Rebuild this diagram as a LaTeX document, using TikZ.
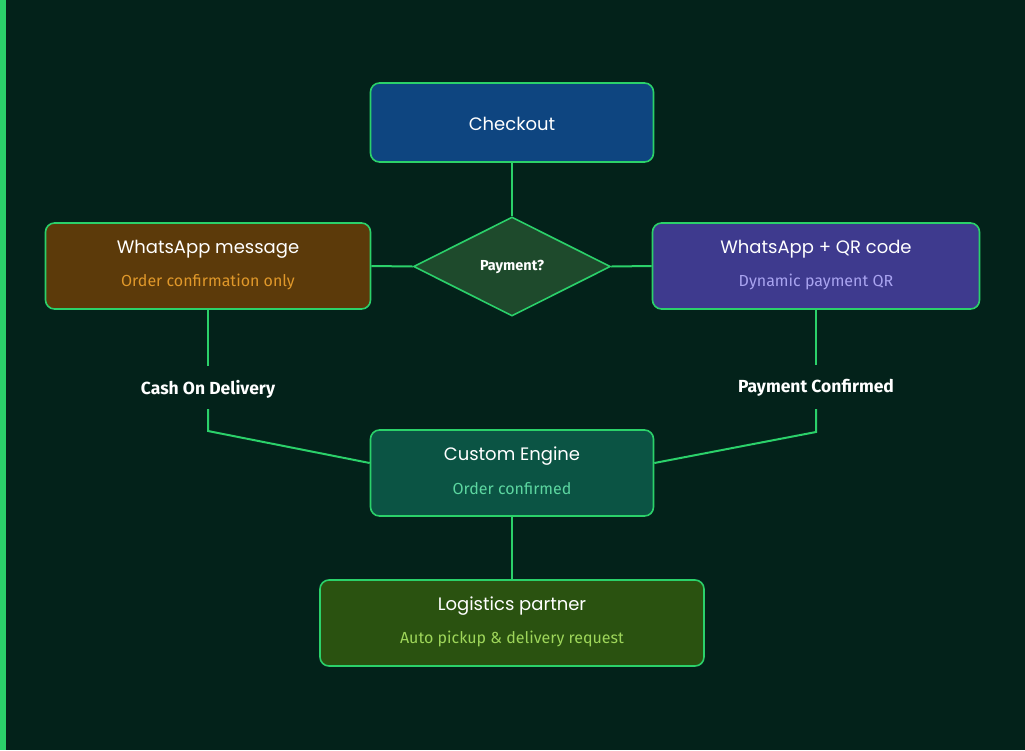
\documentclass[tikz,border=0pt]{standalone}
\usepackage{fontspec}
\setmainfont{Poppins}
\newfontfamily\subf{Fira Sans}
\usetikzlibrary{shapes.geometric}
\definecolor{bg}{HTML}{03221A}
\definecolor{gl}{HTML}{2BD16A}
\definecolor{cko}{HTML}{0E4580}
\definecolor{wam}{HTML}{5C3A0A}
\definecolor{wamt}{HTML}{E0982A}
\definecolor{qr}{HTML}{3E3A8E}
\definecolor{qrt}{HTML}{A9A4F0}
\definecolor{dia}{HTML}{1E4A2C}
\definecolor{eng}{HTML}{0B5444}
\definecolor{engt}{HTML}{5CD6A0}
\definecolor{log}{HTML}{2A5210}
\definecolor{logt}{HTML}{9ED65A}
\begin{document}
\begin{tikzpicture}[x=1pt,y=-1pt,
 box/.style={draw=gl,line width=1.6pt,rounded corners=9pt,inner sep=0pt},
 ln/.style={draw=gl,line width=2pt},
 ttl/.style={text=white,font=\fontsize{18}{20}\selectfont},
 sub/.style={font=\subf\fontsize{16}{18}\selectfont},
 lab/.style={text=white,font=\subf\fontsize{17.5}{20}\selectfont\bfseries}]
\fill[bg] (0,0) rectangle (1025,750);
\fill[gl] (0,0) rectangle (6,750);
\useasboundingbox (0,0) rectangle (1025,750);
\node[box,fill=cko,minimum width=283pt,minimum height=79pt] (ck) at (512,122.5) {};
\node[ttl] at (512,123.5) {Checkout};
\node[draw=gl,line width=1.6pt,fill=dia,diamond,aspect=2,minimum width=197pt,minimum height=99pt,inner sep=0pt] (d) at (512,266.5) {};
\node[text=white,font=\subf\fontsize{14.5}{16}\selectfont\bfseries] at (512,267) {Payment?};
\node[box,fill=wam,minimum width=325pt,minimum height=86pt] (wa) at (208,266) {};
\node[ttl] at (208,249) {WhatsApp message};
\node[sub,text=wamt] at (208,282) {Order confirmation only};
\node[box,fill=qr,minimum width=327pt,minimum height=86pt] (qr) at (816,266) {};
\node[ttl] at (816,249) {WhatsApp + QR code};
\node[sub,text=qrt] at (816,282) {Dynamic payment QR};
\node[box,fill=eng,minimum width=283pt,minimum height=86pt] (en) at (512,473) {};
\node[ttl] at (512,456) {Custom Engine};
\node[sub,text=engt] at (512,489) {Order confirmed};
\node[box,fill=log,minimum width=384pt,minimum height=86pt] (lg) at (512,623) {};
\node[ttl] at (512,606) {Logistics partner};
\node[sub,text=logt] at (512,639) {Auto pickup \& delivery request};
\node[lab] (cod) at (208,389) {Cash On Delivery};
\node[lab] (pc) at (816,388) {Payment Confirmed};
\coordinate (c1) at (208,431);
\coordinate (c2) at (816,432);
\draw[ln] (ck.south) -- (d.north);
\draw[ln] (wa.east) -- (d.west);
\draw[ln] (qr.west) -- (d.east);
\draw[ln] (wa.south) -- (208,366);
\draw[ln] (208,409) -- (c1) -- (en.west |- 0,463);
\draw[ln] (qr.south) -- (816,365);
\draw[ln] (816,409) -- (c2) -- (en.east |- 0,463);
\draw[ln] (en.south) -- (lg.north);
\end{tikzpicture}
\end{document}
